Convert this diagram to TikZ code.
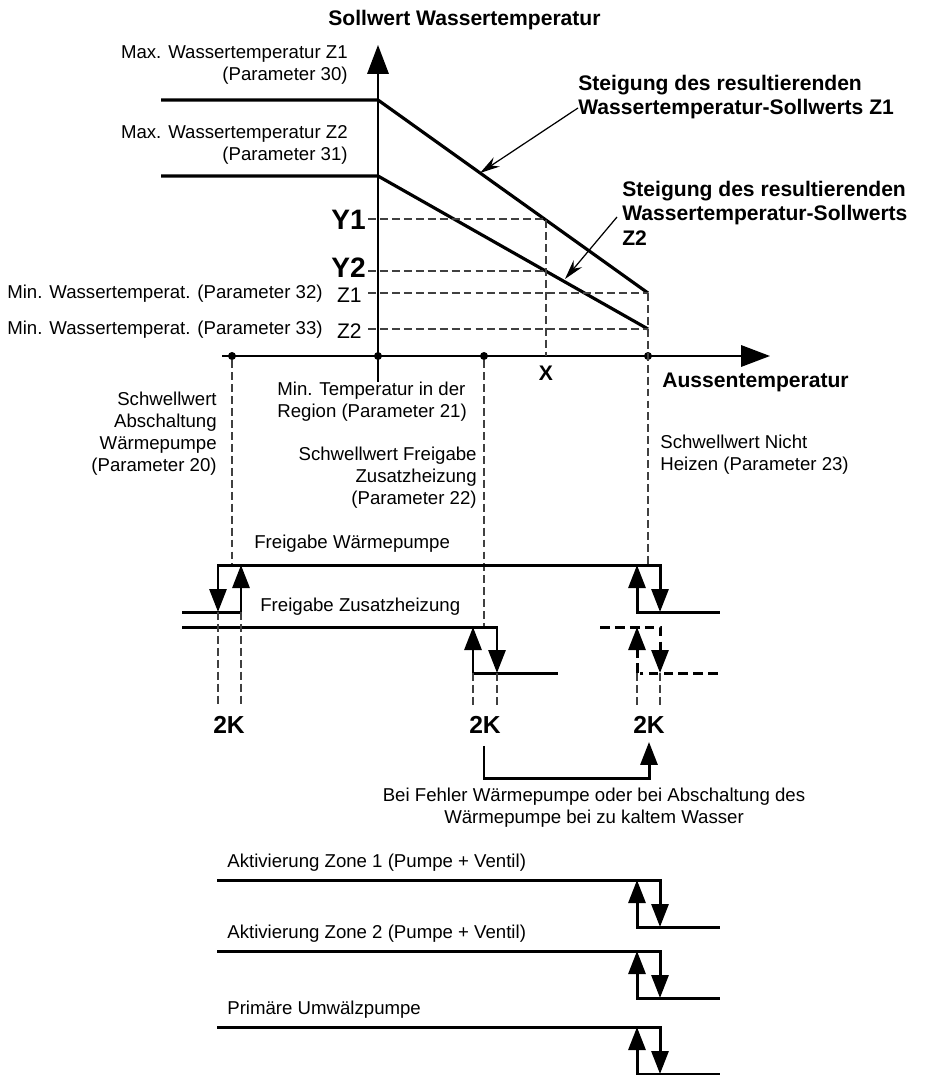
\documentclass[tikz,border=0pt]{standalone}
\usepackage{fontspec}
\setmainfont{Liberation Sans}
\usetikzlibrary{arrows.meta}

\begin{document}
\begin{tikzpicture}[x=0.02cm, y=-0.02cm, >=Stealth,
	txt/.style={font=\fontsize{10.6}{12.5}\selectfont, inner sep=0pt},
	btxt/.style={font=\fontsize{12}{13.9}\selectfont\bfseries, inner sep=0pt},
	axis/.style={line width=1pt, -{Triangle[length=0.58cm, width=0.43cm]}},
	curve/.style={line width=1.8pt},
	flip/.style={line width=1.7pt, line cap=rect, -{Triangle[length=0.46cm, width=0.34cm]}},
	altflip/.style={flip, line cap=butt, dash pattern=on 5.5pt off 3pt},
	guide/.style={black!75, line width=0.7pt, dash pattern=on 4.5pt off 2.3pt},
	leader/.style={line width=0.7pt, -{Stealth[length=0.4cm, width=0.22cm]}},
	dot/.style={circle, fill, inner sep=0pt, minimum size=0.16cm}]
	
	\useasboundingbox (0,0) rectangle (924,1075);
	
	% ====== axes ======
	\draw[axis] (378,382) -- (378,45);
	\draw[axis] (222,356) -- (770,356);
	\node[btxt, anchor=west] (ytitle) at (328,20) {Sollwert Wassertemperatur};
	\node[btxt, anchor=west] (xtitle) at (662,382) {Aussentemperatur};
	
	\node[dot] (pwp) at (232,356) {};
	\node[dot] (pmin) at (378,356) {};
	\node[dot] (pzh) at (484,356) {};
	\node[dot] (pnh) at (648,356) {};
	
	% ====== set point curves Z1 / Z2 ======
	\coordinate (A1) at (378,100);
	\coordinate (B1) at (648,293);
	\coordinate (A2) at (378,176);
	\coordinate (B2) at (648,329);
	\draw[curve] (161,100) -- (A1) -- (B1);
	\draw[curve] (161,176) -- (A2) -- (B2);
	
	\node[txt, anchor=east, align=right] (maxone) at (348,65) {Max. Wassertemperatur Z1\\(Parameter 30)};
	\node[txt, anchor=east, align=right] (maxtwo) at (348,145) {Max. Wassertemperatur Z2\\(Parameter 31)};
	\node[txt, anchor=east] (minone) at (323,294) {Min. Wassertemperat. (Parameter 32)};
	\node[txt, anchor=east] (mintwo) at (323,330) {Min. Wassertemperat. (Parameter 33)};
	\node[txt, font=\fontsize{12}{14}\selectfont, anchor=east] (zone) at (362,295) {Z1};
	\node[txt, font=\fontsize{12}{14}\selectfont, anchor=east] (ztwo) at (362,331) {Z2};
	
	% ====== reading at X ======
	\coordinate (X1) at (546,219);
	\coordinate (X2) at (546,271);
	\draw[guide] (368,219) -- (X1) -- (546,356);
	\draw[guide] (368,271) -- (X2);
	\draw[guide] (368,293) -- (B1);
	\draw[guide] (368,329) -- (B2);
	\node[btxt, font=\fontsize{16}{18}\selectfont\bfseries, anchor=east] (yone) at (366,220) {Y1};
	\node[btxt, font=\fontsize{16}{18}\selectfont\bfseries, anchor=east] (ytwo) at (366,268) {Y2};
	\node[btxt] (xlab) at (546,373) {X};
	
	% ====== slope notes ======
	\coordinate (S1) at (480,173);
	\coordinate (S2) at (565,279);
	\node[btxt, anchor=west, align=left] (slopeone) at (578,97) {Steigung des resultierenden\\Wassertemperatur-Sollwerts Z1};
	\node[btxt, anchor=west, align=left] (slopetwo) at (622,213) {Steigung des resultierenden\\Wassertemperatur-Sollwerts\\Z2};
	\draw[leader] ([yshift=-0.22cm]slopeone.west) -- (S1);
	\draw[leader] ([xshift=-0.1cm, yshift=-0.08cm]slopetwo.west) -- (S2);
	
	% ====== thresholds ======
	\node[txt, anchor=west, align=left] (mintemp) at (277,402) {Min. Temperatur in der\\Region (Parameter 21)};
	\node[txt, anchor=east, align=right] (offwp) at (217,434) {Schwellwert\\Abschaltung\\Wärmepumpe\\(Parameter 20)};
	\node[txt, anchor=east, align=right] (onzh) at (477,478) {Schwellwert Freigabe\\Zusatzheizung\\(Parameter 22)};
	\node[txt, anchor=west, align=left] (noheat) at (660,455) {Schwellwert Nicht\\Heizen (Parameter 23)};
	\draw[guide] (pwp) -- (232,565);
	\draw[guide] (pzh) -- (484,627);
	\draw[guide] (B1) -- (648,565);
	
	% ====== Freigabe Waermepumpe ======
	\node[txt, anchor=west] (wplab) at (254,544) {Freigabe Wärmepumpe};
	\draw[flip] (183,612) -- (241,612) -- (241,565);
	\draw[flip] (218,565) -- (218,612);
	\draw[flip] (218,565) -- (660,565) -- (660,612);
	\draw[flip] (718,612) -- (637,612) -- (637,565);
	
	% ====== Freigabe Zusatzheizung ======
	\node[txt, anchor=west] (zhlab) at (260,607) {Freigabe Zusatzheizung};
	\draw[flip] (183,627) -- (497,627) -- (497,673);
	\draw[flip] (556,673) -- (473,673) -- (473,627);
	\draw[altflip] (600,627) -- (660,627) -- (660,673);
	\draw[altflip, -] (718,673) -- (640,673);
	\draw[altflip] (637,673) -- (637,627);
	
	% ====== hysteresis 2K ======
	\foreach \gx/\gy in {218/612, 241/612, 473/673, 497/673, 637/673, 660/673}
		\draw[guide] (\gx,\gy) -- (\gx,705);
	\node[btxt, font=\fontsize{14}{16}\selectfont\bfseries] (kone) at (229,725) {2K};
	\node[btxt, font=\fontsize{14}{16}\selectfont\bfseries] (ktwo) at (485,725) {2K};
	\node[btxt, font=\fontsize{14}{16}\selectfont\bfseries] (kthree) at (649,725) {2K};
	
	\draw[flip, line cap=butt] ([xshift=-0.02cm]ktwo.south) ++(0,12) -- ++(0,33) -| ([yshift=-0.16cm]kthree.south);
	\node[txt, align=center] (fehler) at (594,808) {Bei Fehler Wärmepumpe oder bei Abschaltung des\\Wärmepumpe bei zu kaltem Wasser};
	
	% ====== outputs ======
	\foreach \yt/\lab in {880/{Aktivierung Zone 1 (Pumpe + Ventil)}, 951/{Aktivierung Zone 2 (Pumpe + Ventil)}, 1027/{Primäre Umwälzpumpe}} {
		\draw[flip] (218,\yt) -- (660,\yt) -- (660,\yt+47);
		\draw[flip] (718,\yt+47) -- (637,\yt+47) -- (637,\yt);
		\node[txt, anchor=west] (out\yt) at (227,\yt-17) {\lab};
	}
\end{tikzpicture}
\end{document}
